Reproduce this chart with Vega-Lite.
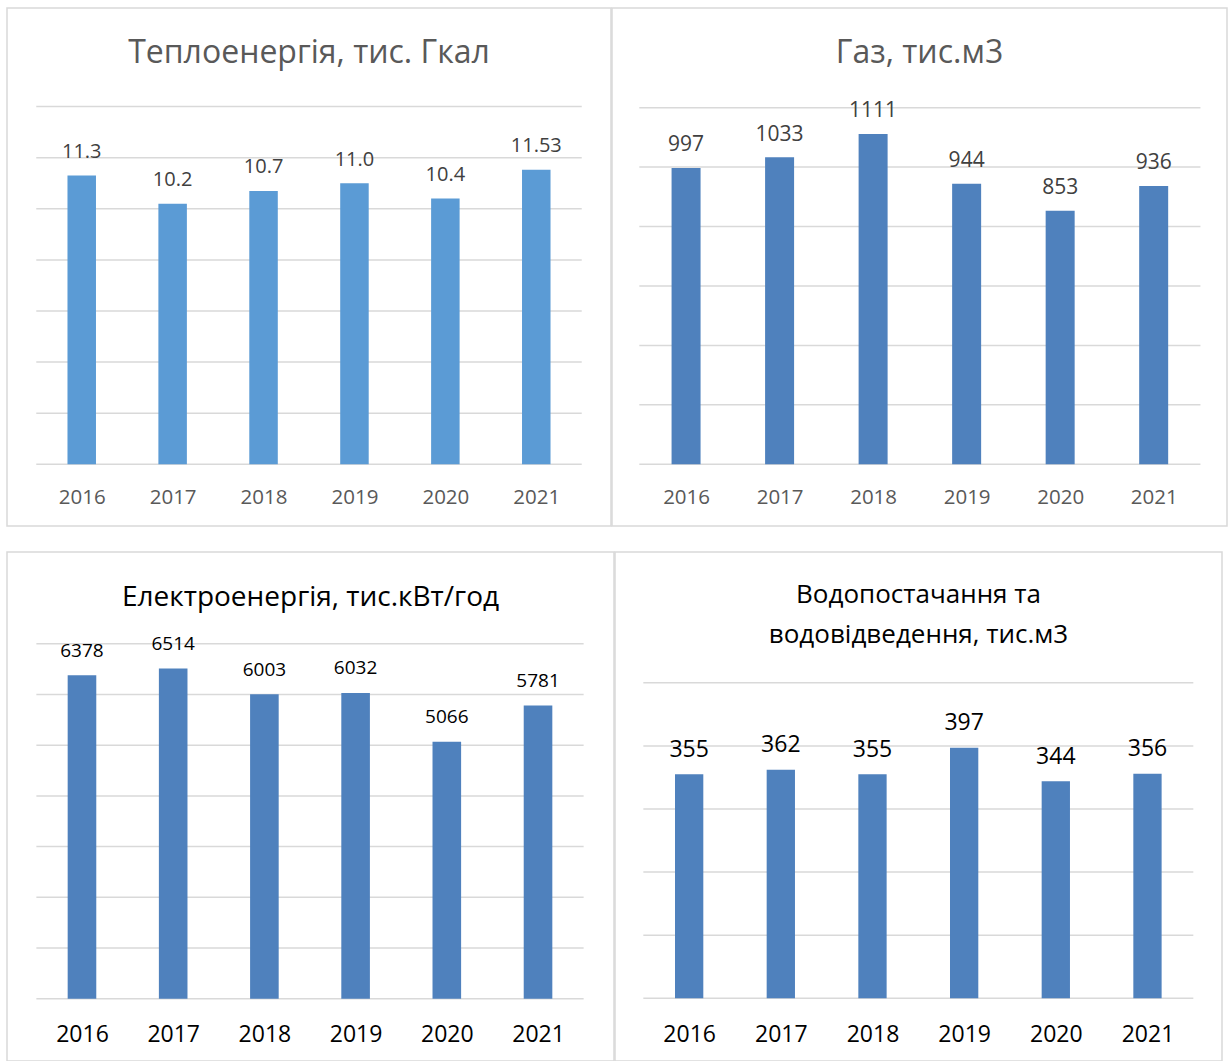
{
  "$schema": "https://vega.github.io/schema/vega-lite/v6.json",
  "padding": {"left": 6, "top": 7, "right": 0, "bottom": 0},
  "background": "white",
  "config": {
    "view": {"stroke": "#d9d9d9", "strokeWidth": 1.5},
    "font": "Open Sans",
    "scale": {"continuousPadding": 0},
    "title": {"font": "Open Sans", "fontWeight": "normal", "anchor": "middle", "frame": "group", "baseline": "alphabetic"}
  },
  "datasets": {
    "heat": [
      {"year": 2016, "value": 11.3, "label": "11.3"},
      {"year": 2017, "value": 10.2, "label": "10.2"},
      {"year": 2018, "value": 10.7, "label": "10.7"},
      {"year": 2019, "value": 11.0, "label": "11.0"},
      {"year": 2020, "value": 10.4, "label": "10.4"},
      {"year": 2021, "value": 11.53, "label": "11.53"}
    ],
    "heatGrid": [{"g": 0}, {"g": 2}, {"g": 4}, {"g": 6}, {"g": 8}, {"g": 10}, {"g": 12}, {"g": 14}],
    "gas": [
      {"year": 2016, "value": 997, "label": "997"},
      {"year": 2017, "value": 1033, "label": "1033"},
      {"year": 2018, "value": 1111, "label": "1111"},
      {"year": 2019, "value": 944, "label": "944"},
      {"year": 2020, "value": 853, "label": "853"},
      {"year": 2021, "value": 936, "label": "936"}
    ],
    "gasGrid": [{"g": 0}, {"g": 200}, {"g": 400}, {"g": 600}, {"g": 800}, {"g": 1000}, {"g": 1200}],
    "elec": [
      {"year": 2016, "value": 6378, "label": "6378"},
      {"year": 2017, "value": 6514, "label": "6514"},
      {"year": 2018, "value": 6003, "label": "6003"},
      {"year": 2019, "value": 6032, "label": "6032"},
      {"year": 2020, "value": 5066, "label": "5066"},
      {"year": 2021, "value": 5781, "label": "5781"}
    ],
    "elecGrid": [{"g": 0}, {"g": 1000}, {"g": 2000}, {"g": 3000}, {"g": 4000}, {"g": 5000}, {"g": 6000}, {"g": 7000}],
    "water": [
      {"year": 2016, "value": 355, "label": "355"},
      {"year": 2017, "value": 362, "label": "362"},
      {"year": 2018, "value": 355, "label": "355"},
      {"year": 2019, "value": 397, "label": "397"},
      {"year": 2020, "value": 344, "label": "344"},
      {"year": 2021, "value": 356, "label": "356"}
    ],
    "waterGrid": [{"g": 0}, {"g": 100}, {"g": 200}, {"g": 300}, {"g": 400}, {"g": 500}]
  },
  "spacing": 24,
  "vconcat": [
    {
      "spacing": -3,
      "hconcat": [
        {
          "width": 604, "height": 518,
          "title": {"text": "Теплоенергія, тис. Гкал", "fontSize": 32, "color": "#595959", "offset": -62},
          "layer": [
            {
              "data": {"name": "heatGrid"},
              "mark": {"type": "rule", "color": "#d9d9d9", "strokeWidth": 1.5},
              "encoding": {
                "y": {"field": "g", "type": "quantitative", "scale": {"domain": [-2.415, 17.86], "nice": false, "zero": false, "padding": 0}, "axis": null},
                "x": {"datum": 2015.5, "type": "quantitative", "scale": {"domain": [2015.178, 2021.822], "nice": false, "zero": false, "padding": 0}},
                "x2": {"datum": 2021.5}
              }
            },
            {
              "data": {"name": "heat"},
              "mark": {"type": "bar", "width": 28.5, "color": "#5B9BD5"},
              "encoding": {
                "x": {"field": "year", "type": "quantitative", "scale": {"domain": [2015.178, 2021.822], "nice": false, "zero": false, "padding": 0},
                      "axis": {"values": [2016, 2017, 2018, 2019, 2020, 2021], "format": "d", "title": null, "grid": false, "domain": false, "ticks": false, "labelFont": "Open Sans", "labelFontSize": 20.5, "labelColor": "#595959", "labelPadding": 23, "offset": -61.7, "labelFlush": false}},
                "y": {"field": "value", "type": "quantitative", "scale": {"domain": [-2.415, 17.86], "nice": false, "zero": false, "padding": 0}, "axis": null},
                "y2": {"datum": 0}
              }
            },
            {
              "data": {"name": "heat"},
              "mark": {"type": "text", "baseline": "alphabetic", "dy": -17.7, "fontSize": 20, "color": "#404040", "font": "Open Sans"},
              "encoding": {
                "x": {"field": "year", "type": "quantitative"},
                "y": {"field": "value", "type": "quantitative", "axis": null},
                "text": {"field": "label"}
              }
            }
          ]
        },
        {
          "width": 615, "height": 518,
          "title": {"text": "Газ, тис.м3", "fontSize": 32, "color": "#595959", "offset": -62},
          "layer": [
            {
              "data": {"name": "gasGrid"},
              "mark": {"type": "rule", "color": "#d9d9d9", "strokeWidth": 1.5},
              "encoding": {
                "y": {"field": "g", "type": "quantitative", "scale": {"domain": [-207.6, 1535.3], "nice": false, "zero": false, "padding": 0}, "axis": null},
                "x": {"datum": 2015.5, "type": "quantitative", "scale": {"domain": [2015.208, 2021.784], "nice": false, "zero": false, "padding": 0}},
                "x2": {"datum": 2021.5}
              }
            },
            {
              "data": {"name": "gas"},
              "mark": {"type": "bar", "width": 29, "color": "#4F81BD"},
              "encoding": {
                "x": {"field": "year", "type": "quantitative", "scale": {"domain": [2015.208, 2021.784], "nice": false, "zero": false, "padding": 0},
                      "axis": {"values": [2016, 2017, 2018, 2019, 2020, 2021], "format": "d", "title": null, "grid": false, "domain": false, "ticks": false, "labelFont": "Open Sans", "labelFontSize": 20.5, "labelColor": "#595959", "labelPadding": 23, "offset": -61.7, "labelFlush": false}},
                "y": {"field": "value", "type": "quantitative", "scale": {"domain": [-207.6, 1535.3], "nice": false, "zero": false, "padding": 0}, "axis": null},
                "y2": {"datum": 0}
              }
            },
            {
              "data": {"name": "gas"},
              "mark": {"type": "text", "baseline": "alphabetic", "dy": -16.7, "fontSize": 21, "color": "#404040", "font": "Open Sans"},
              "encoding": {
                "x": {"field": "year", "type": "quantitative"},
                "y": {"field": "value", "type": "quantitative", "axis": null},
                "text": {"field": "label"}
              }
            }
          ]
        }
      ]
    },
    {
      "spacing": -3,
      "hconcat": [
        {
          "width": 607, "height": 509,
          "title": {"text": "Електроенергія, тис.кВт/год", "fontSize": 28, "color": "#000000", "offset": -60},
          "layer": [
            {
              "data": {"name": "elecGrid"},
              "mark": {"type": "rule", "color": "#d9d9d9", "strokeWidth": 1.5},
              "encoding": {
                "y": {"field": "g", "type": "quantitative", "scale": {"domain": [-1229, 8811], "nice": false, "zero": false, "padding": 0}, "axis": null},
                "x": {"datum": 2015.5, "type": "quantitative", "scale": {"domain": [2015.178, 2021.833], "nice": false, "zero": false, "padding": 0}},
                "x2": {"datum": 2021.5}
              }
            },
            {
              "data": {"name": "elec"},
              "mark": {"type": "bar", "width": 28.6, "color": "#4F81BD"},
              "encoding": {
                "x": {"field": "year", "type": "quantitative", "scale": {"domain": [2015.178, 2021.833], "nice": false, "zero": false, "padding": 0},
                      "axis": {"values": [2016, 2017, 2018, 2019, 2020, 2021], "format": "d", "title": null, "grid": false, "domain": false, "ticks": false, "labelFont": "Open Sans", "labelFontSize": 23, "labelColor": "#000000", "labelPadding": 25, "offset": -62.3, "labelFlush": false}},
                "y": {"field": "value", "type": "quantitative", "scale": {"domain": [-1229, 8811], "nice": false, "zero": false, "padding": 0}, "axis": null},
                "y2": {"datum": 0}
              }
            },
            {
              "data": {"name": "elec"},
              "mark": {"type": "text", "baseline": "alphabetic", "dy": -18.5, "fontSize": 19, "color": "#000000", "font": "Open Sans"},
              "encoding": {
                "x": {"field": "year", "type": "quantitative"},
                "y": {"field": "value", "type": "quantitative", "axis": null},
                "text": {"field": "label"}
              }
            }
          ]
        },
        {
          "width": 607, "height": 509,
          "title": {"text": ["Водопостачання та", "водовідведення, тис.м3"], "fontSize": 26, "lineHeight": 40, "color": "#000000", "offset": -96},
          "layer": [
            {
              "data": {"name": "waterGrid"},
              "mark": {"type": "rule", "color": "#d9d9d9", "strokeWidth": 1.5},
              "encoding": {
                "y": {"field": "g", "type": "quantitative", "scale": {"domain": [-99.4, 707.3], "nice": false, "zero": false, "padding": 0}, "axis": null},
                "x": {"datum": 2015.5, "type": "quantitative", "scale": {"domain": [2015.191, 2021.813], "nice": false, "zero": false, "padding": 0}},
                "x2": {"datum": 2021.5}
              }
            },
            {
              "data": {"name": "water"},
              "mark": {"type": "bar", "width": 28.3, "color": "#4F81BD"},
              "encoding": {
                "x": {"field": "year", "type": "quantitative", "scale": {"domain": [2015.191, 2021.813], "nice": false, "zero": false, "padding": 0},
                      "axis": {"values": [2016, 2017, 2018, 2019, 2020, 2021], "format": "d", "title": null, "grid": false, "domain": false, "ticks": false, "labelFont": "Open Sans", "labelFontSize": 23, "labelColor": "#000000", "labelPadding": 25, "offset": -62.7, "labelFlush": false}},
                "y": {"field": "value", "type": "quantitative", "scale": {"domain": [-99.4, 707.3], "nice": false, "zero": false, "padding": 0}, "axis": null},
                "y2": {"datum": 0}
              }
            },
            {
              "data": {"name": "water"},
              "mark": {"type": "text", "baseline": "alphabetic", "dy": -17.6, "fontSize": 23, "color": "#000000", "font": "Open Sans"},
              "encoding": {
                "x": {"field": "year", "type": "quantitative"},
                "y": {"field": "value", "type": "quantitative", "axis": null},
                "text": {"field": "label"}
              }
            }
          ]
        }
      ]
    }
  ]
}
